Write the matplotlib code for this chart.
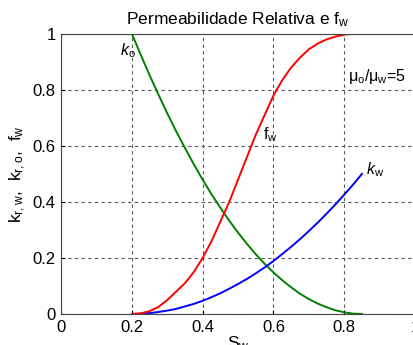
import matplotlib
matplotlib.use("Agg")
import matplotlib.pyplot as plt

plt.rcParams['font.family'] = ['Liberation Sans', 'DejaVu Sans']
plt.rcParams['mathtext.fontset'] = 'custom'
plt.rcParams['mathtext.rm'] = 'Liberation Sans'
plt.rcParams['mathtext.it'] = 'Liberation Sans:italic'

# water saturation
sw = [0.2, 0.225, 0.25, 0.275, 0.3, 0.325, 0.35, 0.375, 0.4, 0.425, 0.45,
      0.475, 0.5, 0.525, 0.55, 0.575, 0.6, 0.625, 0.65, 0.675, 0.7, 0.725,
      0.75, 0.775, 0.8, 0.825, 0.85]
# relative permeability to oil
ko = [1.0, 0.925, 0.852, 0.783, 0.716, 0.652, 0.592, 0.534, 0.479, 0.427,
      0.379, 0.333, 0.290, 0.250, 0.213, 0.179, 0.148, 0.120, 0.095, 0.072,
      0.053, 0.037, 0.024, 0.013, 0.006, 0.001, 0.0]
# relative permeability to water
kw = [0.0, 0.001, 0.003, 0.007, 0.012, 0.018, 0.027, 0.036, 0.047, 0.060,
      0.074, 0.090, 0.107, 0.125, 0.145, 0.166, 0.189, 0.214, 0.240, 0.267,
      0.296, 0.326, 0.358, 0.391, 0.426, 0.462, 0.5]
# fractional flow of water
fw = [0.0, 0.002, 0.01, 0.025, 0.05, 0.08, 0.11, 0.15, 0.2, 0.26, 0.33,
      0.40, 0.48, 0.56, 0.64, 0.71, 0.78, 0.835, 0.88, 0.915, 0.945, 0.965,
      0.98, 0.99, 0.997, 1.0, 1.0]

fig = plt.figure(figsize=(4.13, 3.45), dpi=100)
ax = fig.add_axes([0.148, 0.090, 0.857, 0.812])

ax.plot(sw, ko, color=(0.0, 0.5, 0.0), lw=1.4)
ax.plot(sw, kw, color='blue', lw=1.4)
ax.plot(sw, fw, color='red', lw=1.4)

ax.set_xlim(0, 1)
ax.set_ylim(0, 1)
ax.set_xticks([0, 0.2, 0.4, 0.6, 0.8, 1])
ax.set_xticklabels(['0', '0.2', '0.4', '0.6', '0.8', '1'])
ax.set_yticks([0, 0.2, 0.4, 0.6, 0.8, 1])
ax.set_yticklabels(['0', '0.2', '0.4', '0.6', '0.8', '1'])
ax.tick_params(direction='in', length=3, labelsize=12, pad=4)
ax.grid(True, linestyle=(0, (3, 3)), color='#555555', lw=0.8)
for s in ax.spines.values():
    s.set_color('#444444')

ax.set_title(r'Permeabilidade Relativa e f$_{\mathrm{w}}$', fontsize=12.5, pad=7)
ax.set_xlabel(r'S$_{\mathrm{w}}$', fontsize=12.5, labelpad=0)
ax.set_ylabel(r'k$_{\mathrm{r,w}}$,  k$_{\mathrm{r,o}}$,  f$_{\mathrm{w}}$', fontsize=12.5, labelpad=3)

ax.text(0.165, 0.925, r'$k_{\mathrm{o}}$', fontsize=11.5)
ax.text(0.57, 0.625, r'f$_{\mathrm{w}}$', fontsize=11.5)
ax.text(0.86, 0.50, r'$k_{\mathrm{w}}$', fontsize=11.5)
ax.text(0.81, 0.83, r'μ$_{\mathrm{o}}$/μ$_{\mathrm{w}}$=5', fontsize=11.5)

fig.savefig('out.png', dpi=100)
